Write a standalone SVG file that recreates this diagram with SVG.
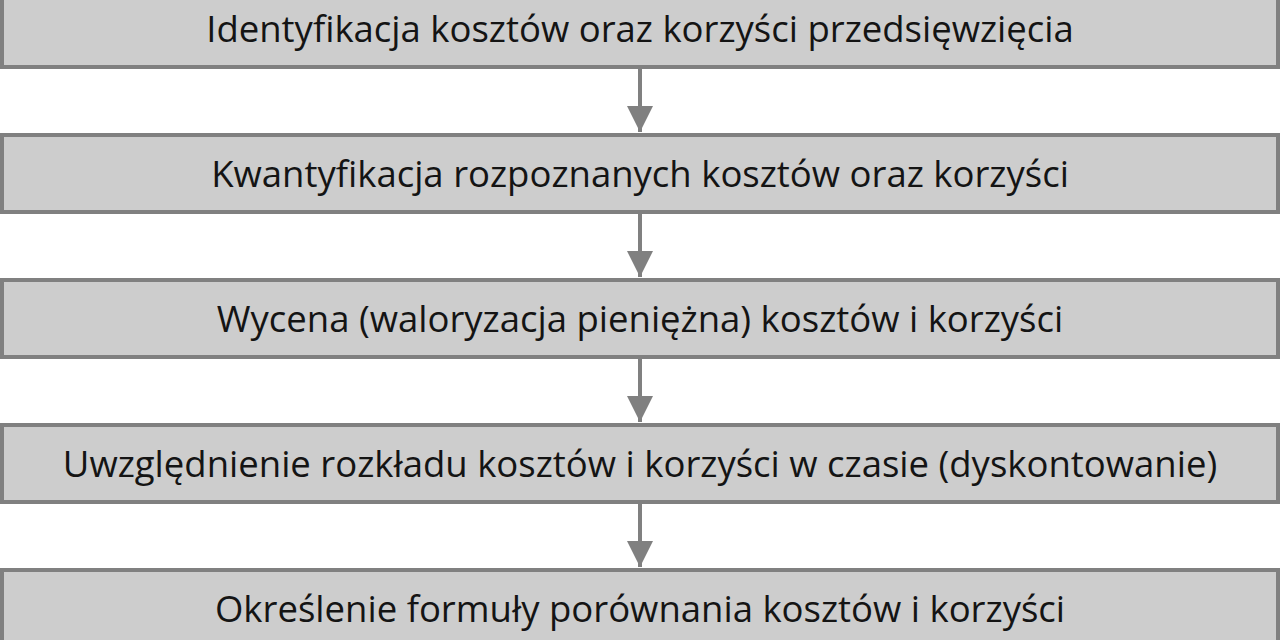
<svg xmlns="http://www.w3.org/2000/svg" width="1280" height="640" viewBox="0 0 1280 640">
<style>
.box{fill:#cdcdcd;stroke:#808080;stroke-width:4}
.lbl{font-family:"Open Sans","Noto Sans","Liberation Sans",sans-serif;font-size:36.5px;fill:#141414;text-anchor:middle}
.con{stroke:#808080;stroke-width:4;fill:none}
</style>
<defs>
<marker id="ah" markerUnits="userSpaceOnUse" markerWidth="26" markerHeight="26" refX="26" refY="13" orient="auto" viewBox="0 0 26 26">
<path d="M0,0 L26,13 L0,26 Z" fill="#808080"/>
</marker>
</defs>
<rect x="0" y="0" width="1280" height="640" fill="#ffffff"/>
<g id="connectors">
<line class="con" x1="640" y1="69" x2="640" y2="132" marker-end="url(#ah)"/>
<line class="con" x1="640" y1="214" x2="640" y2="277" marker-end="url(#ah)"/>
<line class="con" x1="640" y1="359" x2="640" y2="422" marker-end="url(#ah)"/>
<line class="con" x1="640" y1="504" x2="640" y2="567" marker-end="url(#ah)"/>
</g>
<g id="node1">
<rect class="box" x="2" y="-10" width="1276" height="77"/>
<text class="lbl" x="640" y="42">Identyfikacja kosztów oraz korzyści przedsięwzięcia</text>
</g>
<g id="node2">
<rect class="box" x="2" y="135" width="1276" height="77"/>
<text class="lbl" x="640" y="187">Kwantyfikacja rozpoznanych kosztów oraz korzyści</text>
</g>
<g id="node3">
<rect class="box" x="2" y="280" width="1276" height="77"/>
<text class="lbl" x="640" y="332">Wycena (waloryzacja pieniężna) kosztów i korzyści</text>
</g>
<g id="node4">
<rect class="box" x="2" y="425" width="1276" height="77"/>
<text class="lbl" x="640" y="477">Uwzględnienie rozkładu kosztów i korzyści w czasie (dyskontowanie)</text>
</g>
<g id="node5">
<rect class="box" x="2" y="570" width="1276" height="77"/>
<text class="lbl" x="640" y="622">Określenie formuły porównania kosztów i korzyści</text>
</g>
</svg>
